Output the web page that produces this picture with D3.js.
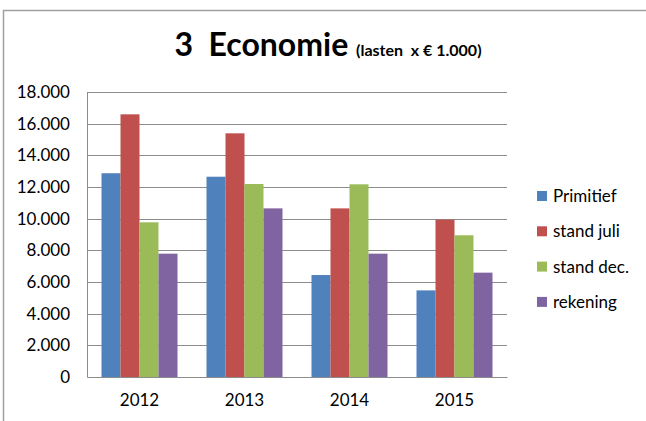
<!DOCTYPE html>
<html><head><meta charset="utf-8">
<script src="https://cdn.jsdelivr.net/npm/d3@7"></script>
<style>html,body{margin:0;padding:0;background:#fff;}svg{display:block;}</style>
</head><body>
<script>
const years = ["2012","2013","2014","2015"];
const seriesNames = ["Primitief","stand juli","stand dec.","rekening"];
const primitief = [12870, 12650, 6440, 5470];
const standJuli = [16590, 15390, 10650, 9940];
const standDec = [9770, 12190, 12170, 8950];
const rekening = [7790, 10650, 7790, 6590];
const yTicks = [0,2000,4000,6000,8000,10000,12000,14000,16000,18000];
const colors = ["#4f81bd","#c0504d","#9bbb59","#8064a2"];

(function(){
const seriesValues = [primitief, standJuli, standDec, rekening];
const W = 646, H = 421;
const svg = d3.select("body").append("svg").attr("width", W).attr("height", H);
const font = "Lato, Carlito, Calibri, sans-serif";

svg.append("rect").attr("x",3.5).attr("y",10.5).attr("width",W+10).attr("height",H+10)
  .attr("fill","#fff").attr("stroke","#a0a0a0").attr("stroke-width",1.5);

const pl = 87, pr = 507, pt = 92, pb = 377;
const x = d3.scaleBand().domain(years).range([pl,pr]);
const y = d3.scaleLinear().domain([0,18000]).range([pb,pt]);
const xs = d3.scaleBand().domain(seriesNames).range([0,76]);

svg.append("g").selectAll("line").data(yTicks.filter(d=>d>0)).join("line")
  .attr("x1",pl).attr("x2",pr).attr("y1",d=>Math.round(y(d))+0.5).attr("y2",d=>Math.round(y(d))+0.5)
  .attr("stroke","#8c8c8c").attr("stroke-width",1);

const groups = svg.append("g").selectAll("g").data(years).join("g")
  .attr("transform", d=>`translate(${x(d)+(x.bandwidth()-76)/2},0)`);
groups.selectAll("rect").data((d,i)=>seriesNames.map((s,j)=>({s, v: seriesValues[j][i], j}))).join("rect")
  .attr("x", d=>xs(d.s)).attr("width", xs.bandwidth())
  .attr("y", d=>y(d.v)).attr("height", d=>pb - y(d.v))
  .attr("fill", d=>colors[d.j]);

const yAxis = d3.axisLeft(y).tickValues(yTicks).tickSize(0).tickPadding(17)
  .tickFormat(d=> d===0 ? "0" : d3.format(",")(d).replace(/,/g,"."));
const gy = svg.append("g").attr("transform",`translate(${pl},0)`).call(yAxis);
gy.select(".domain").attr("stroke","#8c8c8c");
gy.selectAll("text").attr("font-family",font).attr("font-size",17).attr("fill","#000");

const xAxis = d3.axisBottom(x).tickSize(0).tickPadding(17);
const gx = svg.append("g").attr("transform",`translate(0,${pb})`).call(xAxis);
gx.select(".domain").attr("stroke","#8c8c8c");
gx.selectAll("text").attr("font-family",font).attr("font-size",17).attr("fill","#000");

const t = svg.append("text").attr("x",328).attr("y",56).attr("text-anchor","middle")
  .attr("font-family",font).attr("font-weight","bold").attr("fill","#000");
t.append("tspan").attr("font-size",32).text("3\u00a0\u00a0Economie ");
t.append("tspan").attr("font-size",16).text("(lasten\u00a0\u00a0x € 1.000)");

const lg = svg.append("g").selectAll("g").data(seriesNames).join("g")
  .attr("transform",(d,i)=>`translate(537,${196 + i*35.3})`);
lg.append("rect").attr("x",0).attr("y",-5).attr("width",10).attr("height",10).attr("fill",(d,i)=>colors[i]);
lg.append("text").attr("x",16).attr("y",6).attr("font-family",font).attr("font-size",17).attr("fill","#000").text(d=>d);
})();
</script>
</body></html>
